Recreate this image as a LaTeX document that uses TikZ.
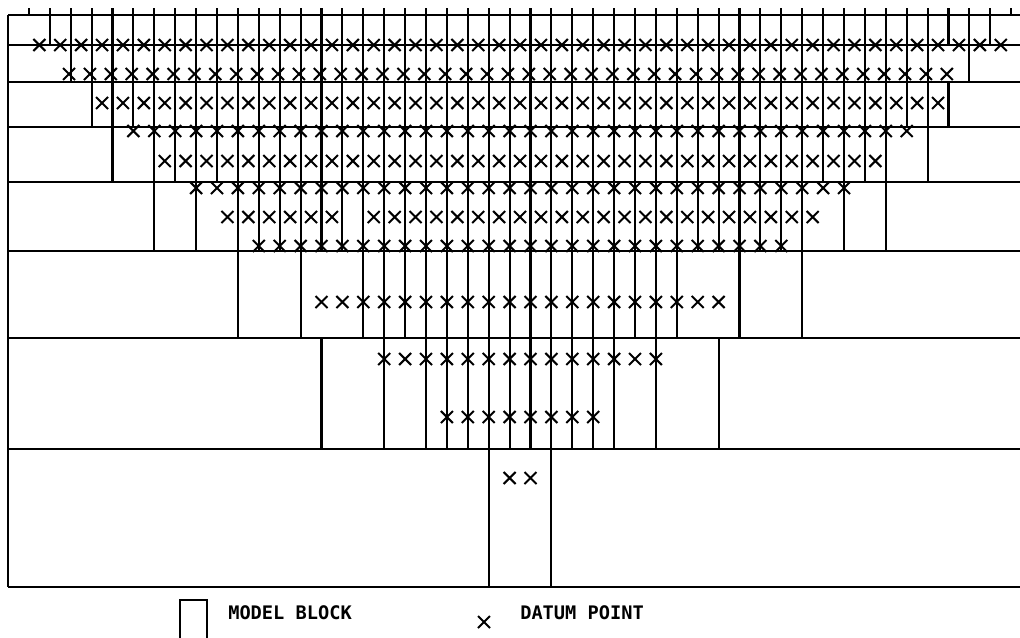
\documentclass[tikz,border=0pt]{standalone}
\usepackage{fontspec}
\setmonofont{DejaVu Sans Mono}
\newcommand\vls[3]{\foreach \k in {#1} {\draw[gridline] ({8+20.9*\k},#2) -- ({8+20.9*\k},#3);}}
\newcommand\xrow[3]{\foreach \k in {#1} {\draw[datum] ({8+20.9*(\k+#3)-6},{#2-6}) -- ++(12,12) ({8+20.9*(\k+#3)-6},{#2+6}) -- ++(12,-12);}}
\begin{document}
\begin{tikzpicture}[x=0.75pt,y=-0.75pt,
  gridline/.style={line width=1.6pt,black},
  datum/.style={line width=1.5pt,black},
  legendtext/.style={font=\ttfamily\bfseries\fontsize{14}{15}\selectfont,anchor=base west,inner sep=0pt}]
\useasboundingbox (0,0) rectangle (1020,637);
% frame and layer boundaries
\foreach \y in {15,45,82,127,182,251,338,449,587} {\draw[gridline] (8,\y) -- (1020,\y);}
\draw[gridline] (8,15) -- (8,587);
% top ticks
\vls{1,...,48}{8}{15}
% block boundaries per layer
\vls{2,...,47}{15}{45}
\vls{3,...,44,46}{45}{82}
\vls{4,...,45}{82}{127}
\vls{5,7,8,...,42,44}{127}{182}
\vls{7,9,11,12,...,38,40,42}{182}{251}
\vls{11,14,17,18,...,32,35,38}{251}{338}
\vls{15,18,20,21,...,29,31,34}{338}{449}
\vls{23,26}{449}{587}
% datum points
\xrow{1,...,47}{45}{0.5}
\xrow{3,...,45}{74}{-0.08}
\xrow{4,...,44}{103}{0.5}
\xrow{6,...,43}{131}{0}
\xrow{7,...,41}{161}{0.5}
\xrow{9,...,40}{188}{0}
\xrow{10,...,15,17,18,...,38}{217}{0.5}
\xrow{12,...,37}{246}{0}
\xrow{15,...,34}{302}{0}
\xrow{18,...,31}{359}{0}
\xrow{21,...,28}{417}{0}
\xrow{24,25}{478}{0}
% legend
\draw[gridline] (180,640) -- (180,600) -- (207,600) -- (207,640);
\node[legendtext] (mb) at (228,619) {MODEL BLOCK};
\draw[datum] (478,616) -- ++(12,12) (478,628) -- ++(12,-12);
\node[legendtext] (dp) at (520,619) {DATUM POINT};
\end{tikzpicture}
\end{document}
